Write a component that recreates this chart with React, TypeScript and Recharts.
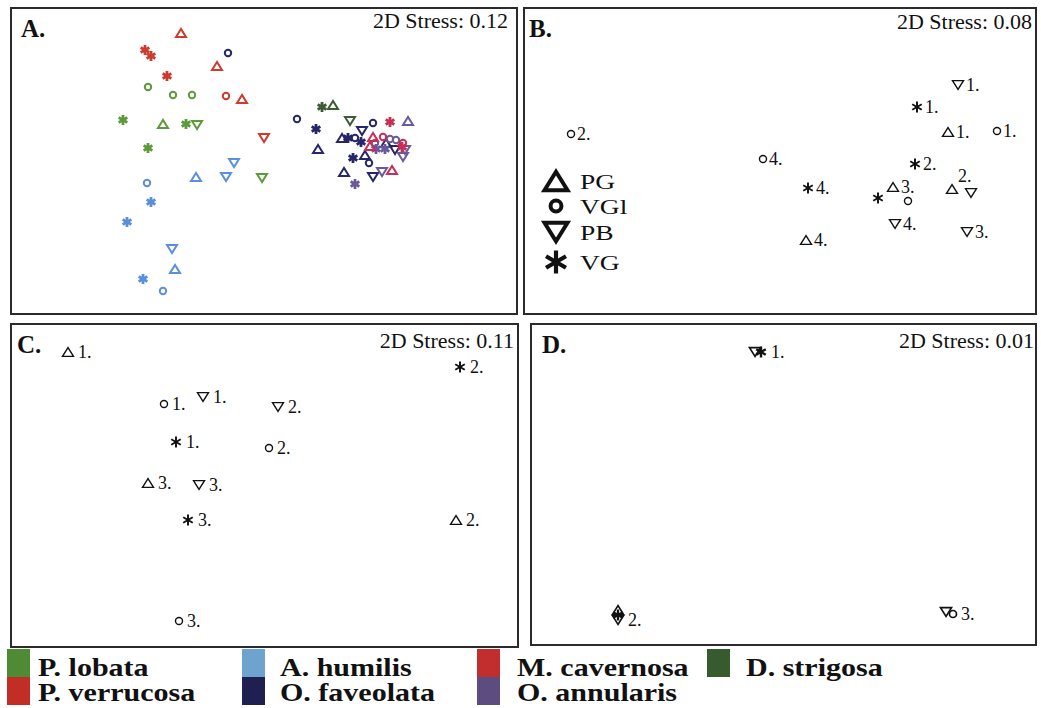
import React from "react";
import { ScatterChart, Scatter, XAxis, YAxis } from "recharts";

type Mark = "tri" | "inv" | "circle" | "star";
interface Pt {
  x: number;
  y: number;
  m: Mark;
  label?: string;
}

const SERIF = "'Liberation Serif', 'DejaVu Serif', serif";

// ---- Panel A: MDS scores per species (panel units, y measured downward) ----
const pLobata: Pt[] = [
  { x: 138, y: 80, m: "circle" },
  { x: 163, y: 88, m: "circle" },
  { x: 182, y: 88, m: "circle" },
  { x: 113, y: 113, m: "star" },
  { x: 176, y: 117, m: "star" },
  { x: 138, y: 141, m: "star" },
  { x: 153, y: 117, m: "tri" },
  { x: 187, y: 118, m: "inv" },
  { x: 252, y: 171, m: "inv" },
];
const pVerrucosa: Pt[] = [
  { x: 171, y: 26, m: "tri" },
  { x: 207, y: 59, m: "tri" },
  { x: 232, y: 92, m: "tri" },
  { x: 135, y: 43, m: "star" },
  { x: 141, y: 49, m: "star" },
  { x: 157, y: 69, m: "star" },
  { x: 216, y: 89, m: "circle" },
  { x: 254, y: 131, m: "inv" },
];
const aHumilis: Pt[] = [
  { x: 224, y: 156, m: "inv" },
  { x: 186, y: 170, m: "tri" },
  { x: 216, y: 170, m: "inv" },
  { x: 137, y: 176, m: "circle" },
  { x: 141, y: 195, m: "star" },
  { x: 117, y: 215, m: "star" },
  { x: 162, y: 242, m: "inv" },
  { x: 165, y: 262, m: "tri" },
  { x: 133, y: 272, m: "star" },
  { x: 153, y: 284, m: "circle" },
];
const dStrigosa: Pt[] = [
  { x: 312, y: 100, m: "star" },
  { x: 323, y: 98, m: "tri" },
  { x: 340, y: 114, m: "inv" },
];
const oFaveolata: Pt[] = [
  { x: 218, y: 46, m: "circle" },
  { x: 287, y: 112, m: "circle" },
  { x: 306, y: 122, m: "star" },
  { x: 308, y: 142, m: "tri" },
  { x: 352, y: 124, m: "inv" },
  { x: 363, y: 116, m: "circle" },
  { x: 332, y: 131, m: "tri" },
  { x: 338, y: 131, m: "star" },
  { x: 345, y: 131, m: "circle" },
  { x: 351, y: 135, m: "star" },
  { x: 343, y: 151, m: "star" },
  { x: 355, y: 148, m: "tri" },
  { x: 359, y: 156, m: "circle" },
  { x: 334, y: 165, m: "tri" },
  { x: 363, y: 170, m: "inv" },
  { x: 385, y: 143, m: "inv" },
  { x: 376, y: 136, m: "tri" },
];
const oAnnularis: Pt[] = [
  { x: 398, y: 114, m: "tri" },
  { x: 380, y: 132, m: "circle" },
  { x: 386, y: 133, m: "circle" },
  { x: 365, y: 136, m: "circle" },
  { x: 375, y: 142, m: "star" },
  { x: 366, y: 142, m: "star" },
  { x: 395, y: 143, m: "inv" },
  { x: 393, y: 150, m: "inv" },
  { x: 372, y: 165, m: "inv" },
  { x: 345, y: 177, m: "star" },
];
const mCavernosa: Pt[] = [
  { x: 380, y: 115, m: "star" },
  { x: 363, y: 130, m: "tri" },
  { x: 373, y: 130, m: "circle" },
  { x: 360, y: 139, m: "tri" },
  { x: 393, y: 136, m: "circle" },
  { x: 392, y: 140, m: "star" },
  { x: 382, y: 163, m: "tri" },
];

const speciesA = [
  { name: "P. lobata", color: "#5c9a3c", data: pLobata },
  { name: "P. verrucosa", color: "#cf3a2e", data: pVerrucosa },
  { name: "A. humilis", color: "#5b8fdc", data: aHumilis },
  { name: "D. strigosa", color: "#3e5a36", data: dStrigosa },
  { name: "O. faveolata", color: "#27266a", data: oFaveolata },
  { name: "O. annularis", color: "#6a5a9c", data: oAnnularis },
  { name: "M. cavernosa", color: "#c92f55", data: mCavernosa },
];

// ---- Panel B: sites by reef type ----
const bTri: Pt[] = [
  { x: 425, y: 125, m: "tri", label: "1." },
  { x: 429, y: 182, m: "tri", label: "2." },
  { x: 370, y: 180, m: "tri", label: "3." },
  { x: 283, y: 233, m: "tri", label: "4." },
];
const bCircle: Pt[] = [
  { x: 474, y: 124, m: "circle", label: "1." },
  { x: 48, y: 127, m: "circle", label: "2." },
  { x: 385, y: 194, m: "circle" },
  { x: 240, y: 152, m: "circle", label: "4." },
];
const bInv: Pt[] = [
  { x: 435, y: 78, m: "inv", label: "1." },
  { x: 448, y: 186, m: "inv" },
  { x: 444, y: 225, m: "inv", label: "3." },
  { x: 372, y: 217, m: "inv", label: "4." },
];
const bStar: Pt[] = [
  { x: 394, y: 100, m: "star", label: "1." },
  { x: 392, y: 157, m: "star", label: "2." },
  { x: 355, y: 191, m: "star" },
  { x: 285, y: 181, m: "star", label: "4." },
];

// ---- Panel C ----
const cTri: Pt[] = [
  { x: 58, y: 29, m: "tri", label: "1." },
  { x: 446, y: 197, m: "tri", label: "2." },
  { x: 138, y: 160, m: "tri", label: "3." },
];
const cCircle: Pt[] = [
  { x: 154, y: 81, m: "circle", label: "1." },
  { x: 259, y: 125, m: "circle", label: "2." },
  { x: 169, y: 298, m: "circle", label: "3." },
];
const cInv: Pt[] = [
  { x: 193, y: 74, m: "inv", label: "1." },
  { x: 268, y: 84, m: "inv", label: "2." },
  { x: 189, y: 162, m: "inv", label: "3." },
];
const cStar: Pt[] = [
  { x: 166, y: 119, m: "star", label: "1." },
  { x: 450, y: 44, m: "star", label: "2." },
  { x: 178, y: 197, m: "star", label: "3." },
];

// ---- Panel D ----
const dTri: Pt[] = [{ x: 88, y: 287, m: "tri" }];
const dCircle: Pt[] = [{ x: 423, y: 291, m: "circle", label: "3." }];
const dInv: Pt[] = [
  { x: 225, y: 29, m: "inv" },
  { x: 88, y: 297, m: "inv", label: "2." },
  { x: 416, y: 289, m: "inv" },
];
const dStar: Pt[] = [
  { x: 231, y: 29, m: "star", label: "1." },
  { x: 88, y: 292, m: "star" },
];

const reefTypes = ["PG", "VGl", "PB", "VG"];
const reefMarks: Mark[] = ["tri", "circle", "inv", "star"];

const legendRows = [
  ["P. lobata", "A. humilis", "M. cavernosa", "D. strigosa"],
  ["P. verrucosa", "O. faveolata", "O. annularis"],
];
const legendColors: Record<string, string> = {
  "P. lobata": "#4f8b35",
  "P. verrucosa": "#c22d26",
  "A. humilis": "#6fa3cf",
  "O. faveolata": "#1f2050",
  "M. cavernosa": "#c22d2d",
  "O. annularis": "#5d4c80",
  "D. strigosa": "#375a2e",
};

// label nudges that aren't simply "to the right"
const labelNudge: Record<string, [number, number]> = {
  "B-tri-2.": [6, -13],
};

function Glyph({ cx, cy, m, s, color, sw }: { cx: number; cy: number; m: Mark; s: number; color: string; sw: number }) {
  const w = s / 2;
  const t = s * 0.4;
  if (m === "tri")
    return <polygon points={`${cx},${cy - t} ${cx - w},${cy + t} ${cx + w},${cy + t}`} fill="none" stroke={color} strokeWidth={sw} />;
  if (m === "inv")
    return <polygon points={`${cx},${cy + t} ${cx - w},${cy - t} ${cx + w},${cy - t}`} fill="none" stroke={color} strokeWidth={sw} />;
  if (m === "circle") return <circle cx={cx} cy={cy} r={s * 0.32} fill="none" stroke={color} strokeWidth={sw} />;
  return (
    <g>
      {[90, 30, 150].map((a) => {
        const r = (a * Math.PI) / 180;
        const dx = Math.cos(r) * w;
        const dy = Math.sin(r) * w;
        return <line key={a} x1={cx - dx} y1={cy - dy} x2={cx + dx} y2={cy + dy} stroke={color} strokeWidth={sw * 1.4} />;
      })}
    </g>
  );
}

interface Series {
  key: string;
  color: string;
  data: Pt[];
}

function Panel({
  id,
  left,
  top,
  w,
  h,
  tag,
  tagX,
  stress,
  stressY,
  stressRight,
  series,
  size,
  sw,
  gap,
  children,
}: {
  id: string;
  left: number;
  top: number;
  w: number;
  h: number;
  tag: string;
  tagX: number;
  stress: string;
  stressY: number;
  stressRight: number;
  series: Series[];
  size: number;
  sw: number;
  gap: number;
  children?: React.ReactNode;
}) {
  return (
    <div style={{ position: "absolute", left, top, width: w, height: h }}>
      <ScatterChart width={w} height={h} margin={{ top: 0, right: 0, bottom: 0, left: 0 }}>
        <XAxis type="number" dataKey="x" domain={[0, w]} hide allowDataOverflow />
        <YAxis type="number" dataKey="y" domain={[0, h]} reversed hide allowDataOverflow />
        {series.map((s) => (
          <Scatter
            key={s.key}
            name={s.key}
            data={s.data}
            isAnimationActive={false}
            shape={(p: any) => {
              const pt: Pt = p.payload;
              const nudge = pt.label ? labelNudge[`${id}-${pt.m}-${pt.label}`] : undefined;
              const lx = p.cx + (nudge ? nudge[0] : pt.m === "circle" ? gap - 2 : gap);
              const ly = p.cy + 6 + (nudge ? nudge[1] : 0);
              return (
                <g>
                  <Glyph cx={p.cx} cy={p.cy} m={pt.m} s={size} color={s.color} sw={sw} />
                  {pt.label && (
                    <text x={lx} y={ly} style={{ fontFamily: SERIF }} fontSize={18} fill="#111">
                      {pt.label}
                    </text>
                  )}
                </g>
              );
            }}
          />
        ))}
      </ScatterChart>
      <svg width={w} height={h} style={{ position: "absolute", left: 0, top: 0, pointerEvents: "none" }}>
        <rect x={1} y={1} width={w - 2} height={h - 2} fill="none" stroke="#2b2b2b" strokeWidth={2} />
        <text x={tagX} y={30} style={{ fontFamily: SERIF }} fontWeight="bold" fontSize={25} fill="#111">
          {tag}
        </text>
        <text x={w - stressRight} y={stressY} textAnchor="end" style={{ fontFamily: SERIF }} fontSize={22} fill="#111">
          {stress}
        </text>
      </svg>
      {children}
    </div>
  );
}

function ReefLegend() {
  const ys = [174, 199, 225, 255];
  return (
    <svg width={120} height={280} style={{ position: "absolute", left: 0, top: 0, pointerEvents: "none" }}>
      {reefTypes.map((t, i) => (
        <g key={t}>
          <Glyph cx={33} cy={ys[i]} m={reefMarks[i]} s={reefMarks[i] === "circle" ? 17 : 23} color="#111" sw={reefMarks[i] === "star" ? 3 : 4} />
          <text
            transform={`translate(57 ${ys[i] + 8}) scale(1.25 1)`}
            style={{ fontFamily: SERIF }}
            fontSize={22}
            fill="#111"
          >
            {t}
          </text>
        </g>
      ))}
    </svg>
  );
}

const black = "#111";

export default function App() {
  const colX = [7, 242, 477, 707];
  const textX = [38, 280, 517, 746];
  return (
    <div
      style={{
        position: "fixed",
        left: 0,
        top: 0,
        width: 1041,
        height: 708,
        background: "#fff",
        overflow: "hidden",
      }}
    >
      <Panel
        id="A"
        left={10}
        top={7}
        w={508}
        h={308}
        tag="A."
        tagX={11}
        stress="2D Stress: 0.12"
        stressY={21}
        stressRight={10}
        series={speciesA.map((s) => ({ key: s.name, color: s.color, data: s.data }))}
        size={10}
        sw={2}
        gap={9}
      />
      <Panel
        id="B"
        left={523}
        top={7}
        w={514}
        h={308}
        tag="B."
        tagX={6}
        stress="2D Stress: 0.08"
        stressY={22}
        stressRight={5}
        series={[
          { key: "PG", color: black, data: bTri },
          { key: "VGl", color: black, data: bCircle },
          { key: "PB", color: black, data: bInv },
          { key: "VG", color: black, data: bStar },
        ]}
        size={11}
        sw={1.4}
        gap={8}
      >
        <ReefLegend />
      </Panel>
      <Panel
        id="C"
        left={10}
        top={323}
        w={509}
        h={325}
        tag="C."
        tagX={7}
        stress="2D Stress: 0.11"
        stressY={25}
        stressRight={5}
        series={[
          { key: "PG", color: black, data: cTri },
          { key: "VGl", color: black, data: cCircle },
          { key: "PB", color: black, data: cInv },
          { key: "VG", color: black, data: cStar },
        ]}
        size={11}
        sw={1.4}
        gap={10}
      />
      <Panel
        id="D"
        left={530}
        top={323}
        w={507}
        h={323}
        tag="D."
        tagX={12}
        stress="2D Stress: 0.01"
        stressY={25}
        stressRight={3}
        series={[
          { key: "PG", color: black, data: dTri },
          { key: "VGl", color: black, data: dCircle },
          { key: "PB", color: black, data: dInv },
          { key: "VG", color: black, data: dStar },
        ]}
        size={11}
        sw={1.7}
        gap={10}
      />
      {legendRows.map((row, r) =>
        row.map((name, c) => (
          <React.Fragment key={name}>
            <div
              style={{
                position: "absolute",
                left: colX[c],
                top: 649 + r * 28,
                width: 23,
                height: 28,
                background: legendColors[name],
              }}
            />
            <div
              style={{
                position: "absolute",
                left: textX[c],
                top: 656 + r * 25,
                fontFamily: SERIF,
                fontWeight: "bold",
                fontSize: 25,
                lineHeight: "24px",
                color: "#111",
                whiteSpace: "nowrap",
                transform: "scaleX(1.2)",
                transformOrigin: "left center",
              }}
            >
              {name}
            </div>
          </React.Fragment>
        ))
      )}
    </div>
  );
}
